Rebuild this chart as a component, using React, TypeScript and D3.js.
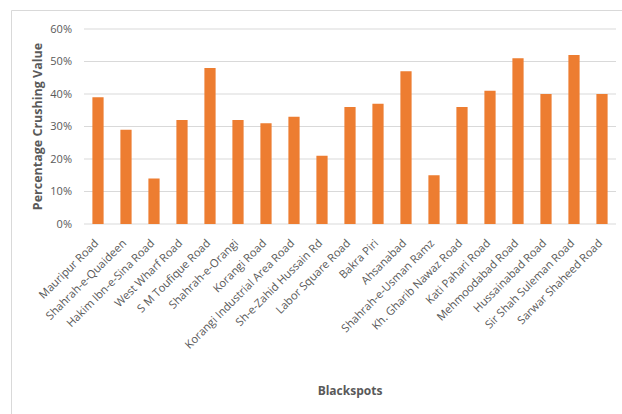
import React from "react";
import * as d3 from "d3";

const categories = [
  "Mauripur Road",
  "Shahrah-e-Quaideen",
  "Hakim Ibn-e-Sina Road",
  "West Wharf Road",
  "S M Toufique Road",
  "Shahrah-e-Orangi",
  "Korangi Road",
  "Korangi Industrial Area Road",
  "Sh-e-Zahid Hussain Rd",
  "Labor Square Road",
  "Bakra Piri",
  "Ahsanabad",
  "Shahrah-e-Usman Ramz",
  "Kh. Gharib Nawaz Road",
  "Kati Pahari Road",
  "Mehmoodabad Road",
  "Hussainabad Road",
  "Sir Shah Suleman Road",
  "Sarwar Shaheed Road",
];

const crushingValues = [
  0.39, 0.29, 0.14, 0.32, 0.48, 0.32, 0.31, 0.33, 0.21, 0.36, 0.37, 0.47, 0.15,
  0.36, 0.41, 0.51, 0.4, 0.52, 0.4,
];

const yTicks = [0, 0.1, 0.2, 0.3, 0.4, 0.5, 0.6];

const W = 622;
const H = 414;
const plot = { left: 84, right: 616, top: 29, bottom: 224 };
const FONT = "'Open Sans', 'Liberation Sans', sans-serif";
const TEXT = "#595959";
const BAR = "#ED7D31";

export default function App() {
  const x = d3
    .scaleBand<string>()
    .domain(categories)
    .range([plot.left, plot.right])
    .paddingInner(0.6)
    .paddingOuter(0.3);
  const y = d3.scaleLinear().domain([0, 0.6]).range([plot.bottom, plot.top]);
  const fmt = d3.format(".0%");

  return (
    <svg
      width={W}
      height={H}
      style={{ position: "absolute", left: 0, top: 0, background: "#fff" }}
      fontFamily={FONT}
    >
      {/* chart frame */}
      <line x1={11.5} x2={W} y1={10.5} y2={10.5} stroke="#d9d9d9" />
      <line x1={11.5} x2={11.5} y1={10.5} y2={H} stroke="#d9d9d9" />

      {/* gridlines and y tick labels */}
      {yTicks.map((t) => (
        <g key={t}>
          <line
            x1={plot.left}
            x2={plot.right}
            y1={y(t)}
            y2={y(t)}
            stroke="#d9d9d9"
            strokeWidth={1.2}
          />
          <text
            x={72}
            y={y(t)}
            dy="0.35em"
            textAnchor="end"
            fontSize={11}
            fill={TEXT}
          >
            {fmt(t)}
          </text>
        </g>
      ))}

      {/* bars */}
      {categories.map((c, i) => (
        <rect
          key={c}
          x={x(c)}
          y={y(crushingValues[i])}
          width={x.bandwidth()}
          height={y(0) - y(crushingValues[i])}
          fill={BAR}
        />
      ))}

      {/* rotated category labels */}
      {categories.map((c) => {
        const cx = (x(c) as number) + x.bandwidth() / 2;
        return (
          <text
            key={c}
            transform={`translate(${cx + 1},${244}) rotate(-45)`}
            textAnchor="end"
            fontSize={11.2}
            fill={TEXT}
          >
            {c}
          </text>
        );
      })}

      {/* axis titles */}
      <text
        transform={`translate(42,${(plot.top + plot.bottom) / 2}) rotate(-90)`}
        textAnchor="middle"
        fontSize={12.5}
        fontWeight="bold"
        fill={TEXT}
      >
        Percentage Crushing Value
      </text>
      <text
        x={350}
        y={395}
        textAnchor="middle"
        fontSize={12}
        fontWeight="bold"
        fill={TEXT}
      >
        Blackspots
      </text>
    </svg>
  );
}
